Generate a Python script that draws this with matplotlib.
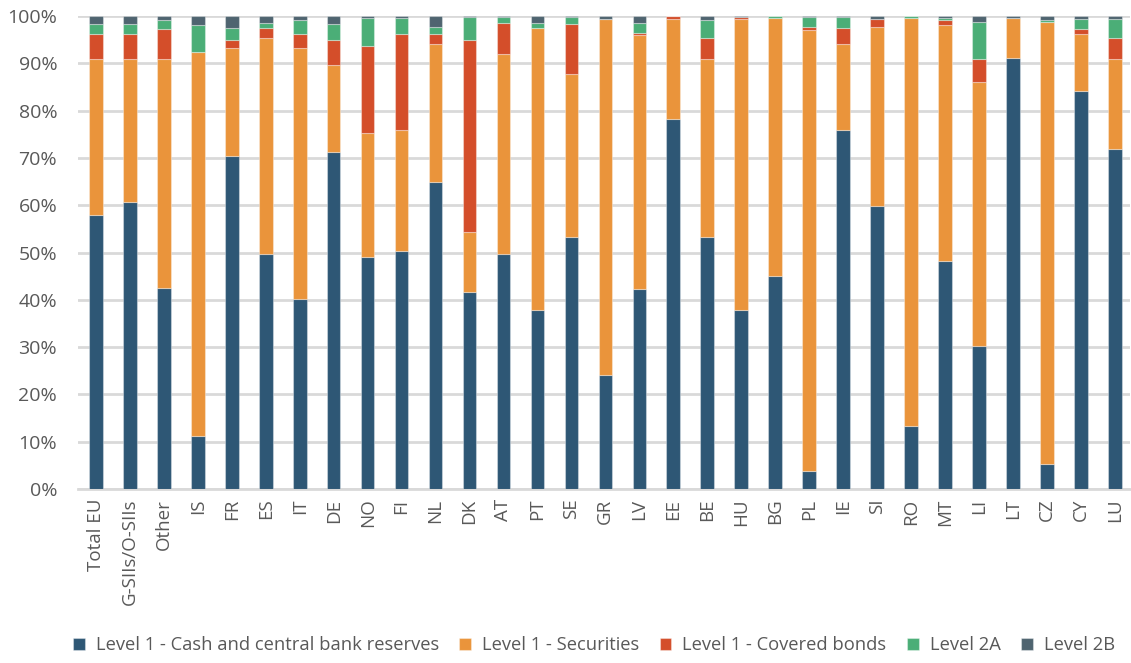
import matplotlib.pyplot as plt
import matplotlib.ticker as ticker
import numpy as np

plt.rcParams['font.family'] = ['Open Sans', 'DejaVu Sans']

countries = ["Total EU", "G-SIIs/O-SIIs", "Other", "IS", "FR", "ES", "IT", "DE",
             "NO", "FI", "NL", "DK", "AT", "PT", "SE", "GR", "LV", "EE", "BE",
             "HU", "BG", "PL", "IE", "SI", "RO", "MT", "LI", "LT", "CZ", "CY", "LU"]

# shares in % of the liquidity buffer
cash = [58.0, 60.7, 42.5, 11.2, 70.5, 49.6, 40.2, 71.2,
        49.0, 50.3, 64.8, 41.6, 49.6, 37.8, 53.3, 24.0, 42.2, 78.2, 53.3,
        37.8, 45.0, 3.9, 75.8, 59.8, 13.3, 48.2, 30.3, 91.2, 5.3, 84.2, 71.8]
securities = [33.0, 30.3, 48.5, 81.2, 22.8, 45.8, 53.1, 18.4,
              26.2, 25.6, 29.2, 12.7, 42.4, 59.6, 34.4, 75.4, 53.85, 21.2, 37.7,
              61.6, 54.6, 93.1, 18.2, 37.9, 86.35, 49.9, 55.75, 8.45, 93.4, 12.1, 19.2]
covered = [5.1, 5.1, 6.3, 0.0, 1.7, 2.0, 3.0, 5.4,
           18.4, 20.4, 2.3, 40.7, 6.5, 0.0, 10.7, 0.0, 0.35, 0.5, 4.3,
           0.3, 0.0, 0.65, 3.4, 1.75, 0.0, 1.0, 4.9, 0.0, 0.0, 1.0, 4.3]
level2a = [2.3, 2.3, 1.8, 5.6, 2.5, 1.1, 2.8, 3.4,
           6.0, 3.3, 1.3, 4.7, 1.3, 1.2, 1.4, 0.0, 2.2, 0.0, 3.9,
           0.1, 0.3, 2.15, 2.4, 0.0, 0.35, 0.55, 7.7, 0.0, 0.35, 2.1, 4.15]
level2b = [1.6, 1.6, 0.85, 2.0, 2.5, 1.5, 0.85, 1.6,
           0.4, 0.4, 2.3, 0.3, 0.2, 1.4, 0.2, 0.6, 1.4, 0.1, 0.85,
           0.2, 0.1, 0.2, 0.2, 0.55, 0.0, 0.35, 1.3, 0.35, 0.9, 0.55, 0.55]

series = [
    ("Level 1 - Cash and central bank reserves", cash, "#2E5775"),
    ("Level 1 - Securities", securities, "#EA943B"),
    ("Level 1 - Covered bonds", covered, "#D44E2A"),
    ("Level 2A", level2a, "#4BAE77"),
    ("Level 2B", level2b, "#4F6470"),
]

fig = plt.figure(figsize=(11.31, 6.63), dpi=100)
ax = fig.add_axes([78 / 1131, 1 - 489 / 663, 1052 / 1131, 473 / 663])

x = np.arange(len(countries))
bottom = np.zeros(len(countries))
for name, vals, col in series:
    v = np.array(vals) / 100.0
    ax.bar(x, v, 0.4, bottom=bottom, color=col, label=name,
           edgecolor=(1, 1, 1, 0.35), linewidth=0.8, zorder=3)
    bottom += v

ax.set_xlim(-0.53, 30.45)
ax.set_ylim(0, 1)
ax.set_yticks(np.arange(0, 1.01, 0.1))
ax.yaxis.set_major_formatter(ticker.PercentFormatter(1.0, decimals=0))
ax.grid(axis='y', color='#D9D9D9', linewidth=2, zorder=0)
ax.set_axisbelow(True)
for s in ['top', 'right', 'left']:
    ax.spines[s].set_visible(False)
ax.spines['bottom'].set_color('#D9D9D9')
ax.spines['bottom'].set_linewidth(2)

ax.set_xticks(x)
ax.set_xticklabels(countries, rotation=90, fontsize=13.5, color='#595959')
ax.tick_params(axis='y', labelsize=14, colors='#595959', length=0, pad=15)
ax.tick_params(axis='x', length=0, pad=7)

fig.legend(loc='lower center', bbox_to_anchor=(0.525, -0.012), ncol=5, frameon=False,
           fontsize=13.2, handlelength=0.65, handleheight=0.65, handletextpad=0.6,
           columnspacing=1.1, labelcolor='#595959')

fig.savefig("out.png", dpi=100)
